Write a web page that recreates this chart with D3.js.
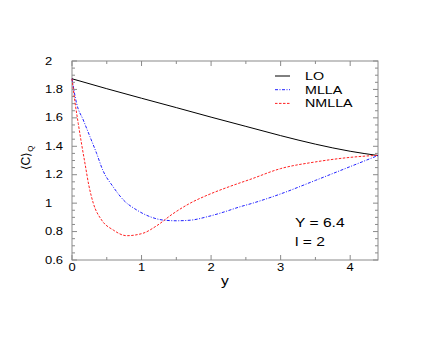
<!DOCTYPE html>
<html>
<head>
<meta charset="utf-8">
<script src="https://cdn.jsdelivr.net/npm/d3@7"></script>
<style>
  html, body { margin: 0; padding: 0; background: #fff; }
  svg text { font-family: "Liberation Sans", Arial, Helvetica, sans-serif; fill: #000; }
</style>
</head>
<body>
<svg id="chart" width="436" height="354"></svg>
<script>
// values
var loX = [0, 0.5, 1, 1.5, 2, 2.5, 3, 3.5, 4, 4.4];
var loY = [1.875, 1.805, 1.738, 1.672, 1.605, 1.54, 1.475, 1.415, 1.365, 1.335];

var mllaX = [0, 0.067, 0.162, 0.258, 0.354, 0.44, 0.59, 0.74, 0.93, 1.12, 1.31, 1.5, 1.7, 1.95, 2.2, 2.4, 2.6, 3.0, 3.5, 4.0, 4.4];
var mllaY = [1.875, 1.70, 1.585, 1.468, 1.35, 1.235, 1.116, 1.022, 0.952, 0.905, 0.881, 0.876, 0.88, 0.905, 0.94, 0.972, 1.0, 1.065, 1.16, 1.257, 1.335];

var nmllaX = [0, 0.04, 0.09, 0.14, 0.19, 0.24, 0.306, 0.426, 0.593, 0.785, 1.02, 1.215, 1.45, 1.7, 1.95, 2.2, 2.4, 2.55, 3.0, 3.5, 4.0, 4.4];
var nmllaY = [1.875, 1.72, 1.56, 1.41, 1.27, 1.13, 1.0, 0.881, 0.811, 0.771, 0.788, 0.84, 0.925, 1.0, 1.057, 1.105, 1.14, 1.165, 1.243, 1.29, 1.322, 1.337];

var xTicks = [0, 1, 2, 3, 4];
var yTicks = [0.6, 0.8, 1, 1.2, 1.4, 1.6, 1.8, 2];
var legendNames = ["LO", "MLLA", "NMLLA"];
var noteLines = ["Y = 6.4", "l = 2"];

var svg = d3.select("#chart");
// plot box (don't call it "top", window.top is read-only)
var pLeft = 72, pRight = 378, pTop = 61, pBottom = 260;
var stretch = 1.3; // the original glyphs are wide

var x = d3.scaleLinear().domain([0, 4.4]).range([pLeft, pRight]);
var y = d3.scaleLinear().domain([0.6, 2]).range([pBottom, pTop]);

function label(txt, px, py, size, anchor) {
    return svg.append("text")
        .attr("transform", "translate(" + px + "," + py + ") scale(" + stretch + ",1)")
        .attr("font-size", size)
        .attr("text-anchor", anchor || "start")
        .text(txt);
}

// frame
svg.append("rect")
    .attr("x", pLeft).attr("y", pTop)
    .attr("width", pRight - pLeft).attr("height", pBottom - pTop)
    .attr("fill", "none").attr("stroke", "#8a8a8a").attr("stroke-width", 1);

// ticks, all inward, on all four sides
var tickG = svg.append("g").attr("stroke", "#8a8a8a").attr("stroke-width", 1);
var xMinor = d3.range(0, 4.41, 0.5);
xMinor.forEach(function (v) {
    var len = (Math.abs(v - Math.round(v)) < 1e-6) ? 5 : 3;
    tickG.append("line").attr("x1", x(v)).attr("x2", x(v)).attr("y1", pBottom).attr("y2", pBottom - len);
    tickG.append("line").attr("x1", x(v)).attr("x2", x(v)).attr("y1", pTop).attr("y2", pTop + len);
});
var yMinor = d3.range(0.6, 2.001, 0.05);
yMinor.forEach(function (v) {
    var isMajor = Math.abs(v * 5 - Math.round(v * 5)) < 1e-6;
    var len = isMajor ? 5 : 3;
    tickG.append("line").attr("x1", pLeft).attr("x2", pLeft + len).attr("y1", y(v)).attr("y2", y(v));
    tickG.append("line").attr("x1", pRight).attr("x2", pRight - len).attr("y1", y(v)).attr("y2", y(v));
});

// tick labels
xTicks.forEach(function (v) {
    label(String(v), x(v), 271, 10, "middle");
});
yTicks.forEach(function (v) {
    label(String(v), 45, y(v) + 3.5, 10, "start");
});

// axis titles
label("y", 225, 285, 12, "middle");
var yl = svg.append("text")
    .attr("transform", "translate(30,158) rotate(-90)")
    .attr("font-size", 12)
    .attr("text-anchor", "middle");
yl.append("tspan").text("\u27E8C\u27E9");
yl.append("tspan").attr("font-size", 8).attr("dy", 3).text("Q");

// curves
var line = d3.line()
    .x(function (d) { return x(d[0]); })
    .y(function (d) { return y(d[1]); })
    .curve(d3.curveMonotoneX);

var series = [
    { xs: loX, ys: loY, color: "#000", dash: null },
    { xs: mllaX, ys: mllaY, color: "#2020ff", dash: "3,1.5,1,1.5" },
    { xs: nmllaX, ys: nmllaY, color: "#ff2020", dash: "2.5,1.5" }
];

series.forEach(function (s) {
    var pts = s.xs.map(function (v, i) { return [v, s.ys[i]]; });
    svg.append("path")
        .datum(pts)
        .attr("d", line)
        .attr("fill", "none")
        .attr("stroke", s.color)
        .attr("stroke-width", 1)
        .attr("stroke-dasharray", s.dash);
});

// legend
series.forEach(function (s, i) {
    var ly = 76 + i * 13.7;
    svg.append("line")
        .attr("x1", 275).attr("x2", 290).attr("y1", ly).attr("y2", ly)
        .attr("stroke", s.color).attr("stroke-width", 1)
        .attr("stroke-dasharray", s.dash);
    label(legendNames[i], 305, ly + 4, 11, "start");
});

// annotation
noteLines.forEach(function (t, i) {
    label(t, 295, 227 + i * 18.5, 12, "start");
});
</script>
</body>
</html>
